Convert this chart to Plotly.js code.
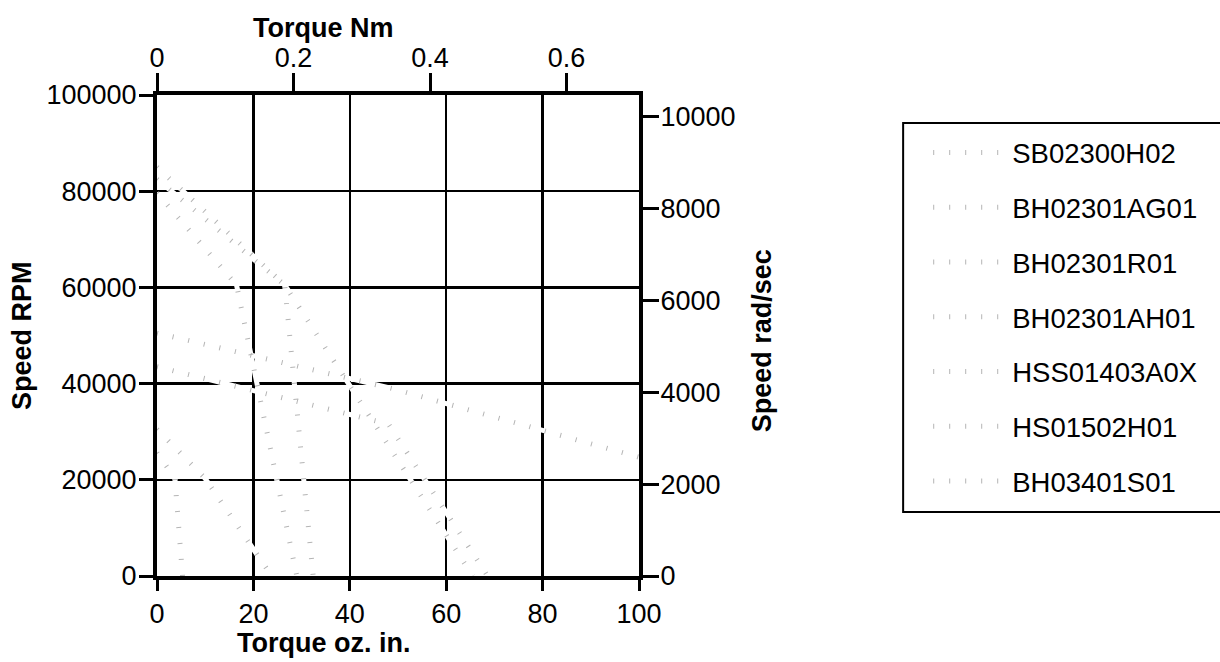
<!DOCTYPE html>
<html>
<head>
<meta charset="utf-8">
<script src="https://cdn.plot.ly/plotly-3.0.1.min.js"></script>
<style>html,body{margin:0;padding:0;background:#fff;}#chart{width:1220px;height:662px;}</style>
</head>
<body>
<div id="chart"></div>
<script>
// ---- Data (torque in oz.in, speed in RPM) ----
const seriesNames = ["SB02300H02", "BH02301AG01", "BH02301R01", "BH02301AH01", "HSS01403A0X", "HS01502H01", "BH03401S01"];

const sb02300h02Torque = [0, 26.5, 32.4];
const sb02300h02Speed  = [85000, 60500, 0];

const bh02301ag01Torque = [0, 26.5, 65.5];
const bh02301ag01Speed  = [82500, 60500, 0];

const bh02301r01Torque = [0, 16.5, 29];
const bh02301r01Speed  = [79600, 60500, 0];

const bh02301ah01Torque = [0, 48.7, 100];
const bh02301ah01Speed  = [50500, 39000, 24700];

const hss01403a0xTorque = [0, 48, 68.6];
const hss01403a0xSpeed  = [43500, 31600, 0];

const hs01502h01Torque = [0, 9.9, 23.8];
const hs01502h01Speed  = [30500, 20400, 0];

const bh03401s01Torque = [0, 3.7, 5.3];
const bh03401s01Speed  = [25600, 20400, 0];

const torqueTicks = [0, 20, 40, 60, 80, 100];
const nmTicks = [0, 0.2, 0.4, 0.6];
const rpmTicks = [0, 20000, 40000, 60000, 80000, 100000];
const radTicks = [0, 2000, 4000, 6000, 8000, 10000];

const allTorque = [sb02300h02Torque, bh02301ag01Torque, bh02301r01Torque, bh02301ah01Torque, hss01403a0xTorque, hs01502h01Torque, bh03401s01Torque];
const allSpeed  = [sb02300h02Speed, bh02301ag01Speed, bh02301r01Speed, bh02301ah01Speed, hss01403a0xSpeed, hs01502h01Speed, bh03401s01Speed];

// unit conversions
const OZIN_TO_NM = 0.00706155;
const RPM_TO_RAD = 2 * Math.PI / 60;
const xMax = 100, yMax = 100000;

const FONT = "Liberation Sans, Arial, sans-serif";
const traces = [];
// white underlay lines (break the gridlines)
for (let i = 0; i < seriesNames.length; i++) {
  traces.push({
    type: "scatter", mode: "lines", x: allTorque[i], y: allSpeed[i],
    xaxis: "x", yaxis: "y",
    line: {color: "#ffffff", width: 5},
    showlegend: false, hoverinfo: "skip"
  });
}
// faint grey dash edges
for (let i = 0; i < seriesNames.length; i++) {
  traces.push({
    type: "scatter", mode: "lines", name: seriesNames[i], x: allTorque[i], y: allSpeed[i],
    xaxis: "x", yaxis: "y", legendgroup: "g" + i,
    line: {color: "#b4b4b4", width: 5, dash: "1px,15px"}
  });
}
// secondary-axis copy (converted units, invisible) so the Nm / rad/sec axes are live
traces.push({
  type: "scatter", mode: "lines",
  x: allTorque[0].map(v => v * OZIN_TO_NM), y: allSpeed[0].map(v => v * RPM_TO_RAD),
  xaxis: "x2", yaxis: "y2", line: {color: "rgba(0,0,0,0)", width: 0},
  showlegend: false, hoverinfo: "skip"
});

const tickFont = {family: FONT, size: 27, color: "#000"};
const titleFont = {family: FONT, size: 27, color: "#000", weight: "bold"};

const layout = {
  width: 1220, height: 662,
  margin: {l: 157, r: 581, t: 95, b: 86, pad: 0},
  paper_bgcolor: "#fff", plot_bgcolor: "#fff",
  showlegend: true,
  font: {family: FONT, size: 27, color: "#000"},
  xaxis: {
    range: [0, xMax], tickvals: torqueTicks, ticktext: torqueTicks.map(String),
    showgrid: true, gridcolor: "#000", gridwidth: 2.5, zeroline: false,
    showline: true, linecolor: "#000", linewidth: 4,
    ticks: "outside", ticklen: 11, tickwidth: 3, tickcolor: "#000",
    tickfont: tickFont, ticklabelstandoff: 0, fixedrange: true
  },
  xaxis2: {
    overlaying: "x", side: "top", anchor: "y",
    range: [0, xMax * OZIN_TO_NM], tickvals: nmTicks, ticktext: nmTicks.map(String),
    showgrid: false, zeroline: false,
    showline: true, linecolor: "#000", linewidth: 4,
    ticks: "outside", ticklen: 18, tickwidth: 3, tickcolor: "#000",
    tickfont: tickFont, ticklabelstandoff: -5, fixedrange: true
  },
  yaxis: {
    range: [0, yMax], tickvals: rpmTicks, ticktext: rpmTicks.map(String),
    showgrid: true, gridcolor: "#000", gridwidth: 2.5, zeroline: false,
    showline: true, linecolor: "#000", linewidth: 4,
    ticks: "outside", ticklen: 14, tickwidth: 3, tickcolor: "#000",
    tickfont: tickFont, ticklabelstandoff: -3, fixedrange: true
  },
  yaxis2: {
    overlaying: "y", side: "right", anchor: "x",
    range: [0, yMax * RPM_TO_RAD], tickvals: radTicks, ticktext: radTicks.map(String),
    showgrid: false, zeroline: false,
    showline: true, linecolor: "#000", linewidth: 4,
    ticks: "outside", ticklen: 16, tickwidth: 3, tickcolor: "#000",
    tickfont: tickFont, ticklabelstandoff: -4, fixedrange: true
  },
  legend: {
    x: 1.60, xanchor: "left", y: 0.931, yanchor: "top",
    bgcolor: "rgba(0,0,0,0)", borderwidth: 0,
    font: {family: FONT, size: 27.5, color: "#000"},
    traceorder: "grouped", tracegroupgap: 16, itemwidth: 74
  },
  shapes: [{
    type: "rect", xref: "paper", yref: "paper",
    x0: 1.548, x1: 2.3, y0: 0.133, y1: 0.942,
    line: {color: "#000", width: 2}, fillcolor: "rgba(0,0,0,0)", layer: "above"
  }],
  annotations: [
    {text: "Torque Nm", xref: "paper", yref: "paper", x: 0.346, y: 1.139, xanchor: "center", yanchor: "middle", showarrow: false, font: titleFont},
    {text: "Torque oz. in.", xref: "paper", yref: "paper", x: 0.346, y: -0.139, xanchor: "center", yanchor: "middle", showarrow: false, font: titleFont},
    {text: "Speed RPM", xref: "paper", yref: "paper", x: -0.280, y: 0.499, xanchor: "center", yanchor: "middle", textangle: -90, showarrow: false, font: titleFont},
    {text: "Speed rad/sec", xref: "paper", yref: "paper", x: 1.255, y: 0.49, xanchor: "center", yanchor: "middle", textangle: -90, showarrow: false, font: titleFont}
  ]
};

Plotly.newPlot("chart", traces, layout, {staticPlot: true, displayModeBar: false});
</script>
</body>
</html>
